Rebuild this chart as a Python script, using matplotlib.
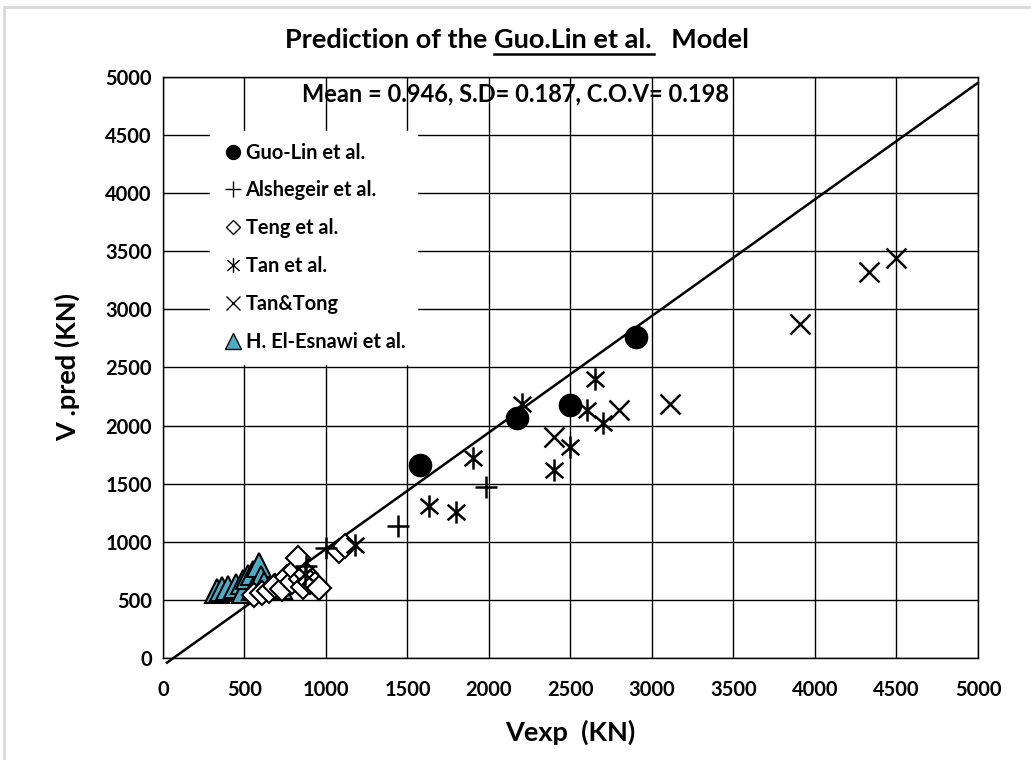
import matplotlib.pyplot as plt
from matplotlib.path import Path
from matplotlib.patches import Rectangle
from matplotlib.lines import Line2D

plt.rcParams['font.family'] = ['Lato', 'DejaVu Sans']
plt.rcParams['font.weight'] = 'bold'

# data (V exp, V pred in kN)
guo_x = [1580, 2170, 2500, 2900]
guo_y = [1660, 2065, 2175, 2760]

als_x = [880, 1000, 1440, 1980]
als_y = [790, 950, 1140, 1470]

teng_x = [560, 610, 650, 690, 730, 760, 790, 810, 830, 850, 860, 880, 900, 930, 960, 1080, 1120]
teng_y = [540, 560, 580, 620, 590, 700, 650, 760, 860, 680, 610, 720, 650, 640, 600, 920, 960]

tan_x = [870, 1180, 1630, 1800, 1900, 2200, 2400, 2500, 2600, 2650, 2700]
tan_y = [720, 975, 1310, 1260, 1720, 2190, 1620, 1820, 2135, 2400, 2020]

tt_x = [2400, 2800, 3110, 3910, 4330, 4500]
tt_y = [1905, 2135, 2190, 2875, 3325, 3440]

esn_x = [330, 360, 400, 450, 490, 500, 520, 550, 560, 590, 600, 620, 680, 720]
esn_y = [580, 590, 600, 620, 650, 580, 700, 730, 600, 800, 690, 640, 620, 610]

line_x = [25, 5000]
line_y = [-40, 4950]

# asterisk marker: vertical bar plus a cross
ast = Path([(0, -1), (0, 1), (-0.8, -0.7), (0.8, 0.7), (-0.8, 0.7), (0.8, -0.7)],
           [Path.MOVETO, Path.LINETO, Path.MOVETO, Path.LINETO, Path.MOVETO, Path.LINETO])

fig = plt.figure(figsize=(10.31, 7.6), dpi=100)
fig.patches.append(Rectangle((0.004, -0.05), 1.2, 1.041, transform=fig.transFigure,
                             fill=False, edgecolor='#d9d9d9', linewidth=2))
ax = fig.add_axes([0.158, 0.1342, 0.7906, 0.7645])

ax.plot(line_x, line_y, color='black', linewidth=1.8, zorder=2, clip_on=False)
ax.plot(esn_x, esn_y, '^', ms=17, mfc='#4bacc6', mec='black', mew=1.5, ls='none', zorder=3)
ax.plot(teng_x, teng_y, 'D', ms=12, mfc='white', mec='black', mew=1.5, ls='none', zorder=3)
ax.plot(als_x, als_y, '+', ms=16, mec='black', mew=1.8, ls='none', zorder=4)
ax.plot(tan_x, tan_y, marker=ast, ms=16, mec='black', mew=1.8, ls='none', zorder=4)
ax.plot(tt_x, tt_y, 'x', ms=15, mec='black', mew=1.8, ls='none', zorder=4)
ax.plot(guo_x, guo_y, 'o', ms=16, mfc='black', mec='black', ls='none', zorder=5)

ax.set_xlim(0, 5000)
ax.set_ylim(0, 5000)
ax.set_xticks(range(0, 5001, 500))
ax.set_yticks(range(0, 5001, 500))
ax.grid(True, color='black', linewidth=1)
ax.set_axisbelow(True)
for s in ax.spines.values():
    s.set_linewidth(1)
ax.tick_params(length=0, labelsize=14.5)
ax.tick_params(axis='y', pad=8)
ax.tick_params(axis='x', pad=16)
for lab in ax.get_xticklabels() + ax.get_yticklabels():
    lab.set_fontweight('bold')

ax.set_xlabel('Vexp  (KN)', fontsize=19.5, fontweight='bold', labelpad=14)
ax.set_ylabel('V .pred (KN)', fontsize=19.5, fontweight='bold', labelpad=18)

ax.text(0.433, 0.99, 'Mean = 0.946, S.D= 0.187, C.O.V= 0.198', transform=ax.transAxes,
        ha='center', va='top', fontsize=17, fontweight='bold')

handles = [
    Line2D([], [], marker='o', ls='none', color='black', ms=10),
    Line2D([], [], marker='+', ls='none', color='black', ms=11, mew=1),
    Line2D([], [], marker='D', ls='none', mfc='white', mec='black', ms=7, mew=1),
    Line2D([], [], marker=ast, ls='none', color='black', ms=11, mew=1),
    Line2D([], [], marker='x', ls='none', color='black', ms=10, mew=1),
    Line2D([], [], marker='^', ls='none', mfc='#4bacc6', mec='black', ms=11, mew=1),
]
labels = ['Guo-Lin et al.', 'Alshegeir et al.', 'Teng et al.', 'Tan et al.', 'Tan&Tong',
          'H. El-Esnawi et al.']
leg = ax.legend(handles, labels, loc='upper left', bbox_to_anchor=(0.045, 0.925),
                frameon=True, fancybox=False, edgecolor='white', framealpha=1,
                prop={'weight': 'bold', 'size': 14.4}, labelspacing=0.89,
                handletextpad=0.1, handlelength=1.1, borderpad=0.6)

# title with underlined model name
ty = 0.937
t1 = fig.text(0.5, ty, 'Prediction of the ', fontsize=19.5, ha='left', va='baseline')
t2 = fig.text(0.5, ty, 'Guo.Lin et al. ', fontsize=19.5, ha='left', va='baseline')
t3 = fig.text(0.5, ty, '  Model', fontsize=19.5, ha='left', va='baseline')
fig.canvas.draw()
r = fig.canvas.get_renderer()
w1 = t1.get_window_extent(r).width
w2 = t2.get_window_extent(r).width
w3 = t3.get_window_extent(r).width
W = fig.bbox.width
x0 = (517 - (w1 + w2 + w3) / 2) / W
t1.set_x(x0)
t2.set_x(x0 + w1 / W)
t3.set_x(x0 + (w1 + w2) / W)
ul_y = ty - 6 / fig.bbox.height
fig.add_artist(Line2D([x0 + w1 / W, x0 + (w1 + w2 - 4) / W], [ul_y, ul_y],
                      transform=fig.transFigure, color='black', linewidth=1.8))

fig.savefig('out.png', dpi=100)
